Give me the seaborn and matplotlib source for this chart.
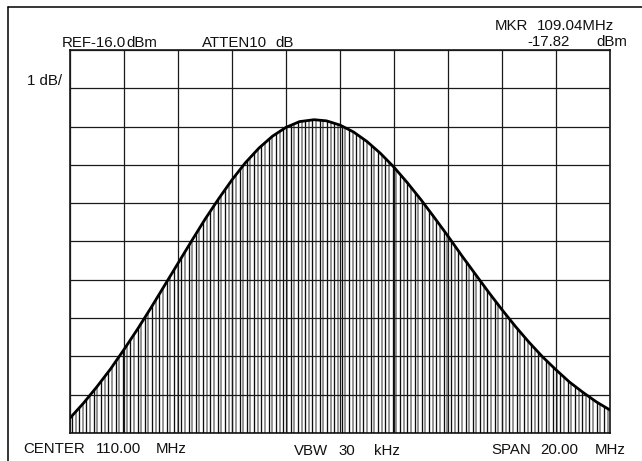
import numpy as np
import pandas as pd
import matplotlib
matplotlib.use("Agg")
import matplotlib.pyplot as plt
from matplotlib.patches import Polygon
from matplotlib.lines import Line2D
import seaborn as sns

# Envelope of the displayed spectrum (MHz, dBm)
env_freq = [100.0, 100.5, 101.0, 101.5, 102.0, 102.5, 103.0, 103.5, 104.0, 104.5,
            105.0, 105.5, 106.0, 106.5, 107.0, 107.5, 108.0, 108.5, 109.04,
            109.5, 110.0, 110.5, 111.0, 111.5, 112.0, 112.5, 113.0, 113.5, 114.0,
            114.5, 115.0, 115.5, 116.0, 116.5, 117.0, 117.5, 118.0, 118.5, 119.0,
            119.5, 120.0]
env_dbm = [-25.61, -25.22, -24.79, -24.33, -23.82, -23.29, -22.73, -22.15, -21.57, -20.99,
           -20.42, -19.89, -19.39, -18.94, -18.56, -18.25, -18.02, -17.87, -17.82,
           -17.85, -17.96, -18.14, -18.39, -18.70, -19.06, -19.47, -19.91, -20.38, -20.86,
           -21.36, -21.84, -22.32, -22.78, -23.22, -23.63, -24.01, -24.35, -24.67, -24.94,
           -25.19, -25.40]

# Comb of spectral lines under the envelope
comb_start_mhz = 100.07
comb_spacing_mhz = 0.135
line_freqs = np.arange(comb_start_mhz, 120.0, comb_spacing_mhz)

# Display settings
ref_level = -16.0
db_per_div = 1.0
center_mhz = 110.0
span_mhz = 20.0

W, H = 642, 461
sns.set_style("white")
plt.rcParams["font.family"] = ["Liberation Sans", "DejaVu Sans"]

fig = plt.figure(figsize=(W / 100, H / 100), dpi=100)
fig.patch.set_facecolor("white")


def fx(x):
    return x / W


def fy(y):
    return 1 - y / H


ax = fig.add_axes([fx(70), fy(433), 540 / W, 383 / H])
f_lo, f_hi = center_mhz - span_mhz / 2, center_mhz + span_mhz / 2
y_lo, y_hi = ref_level - 10 * db_per_div, ref_level
ax.set_xlim(f_lo, f_hi)
ax.set_ylim(y_lo, y_hi)

# spectral lines, clipped to the region under the envelope
under = Polygon(np.column_stack([[f_lo] + env_freq + [f_hi],
                                 [y_lo] + env_dbm + [y_lo]]),
                closed=True, facecolor="none", edgecolor="none",
                transform=ax.transData)
ax.add_patch(under)
dark = line_freqs[0::2]
light = line_freqs[1::2]
lc_light = ax.vlines(light, y_lo, y_hi, colors="#8c8c8c", linewidth=1.3, zorder=2)
lc_dark = ax.vlines(dark, y_lo, y_hi, colors="#0d0d0d", linewidth=0.95, zorder=2)
lc_light.set_clip_path(under)
lc_dark.set_clip_path(under)

# graticule
ax.set_xticks(np.linspace(f_lo, f_hi, 11))
ax.set_yticks(np.linspace(y_lo, y_hi, 11))
ax.grid(True, color="#1a1a1a", linewidth=0.9)
ax.set_axisbelow(False)
ax.tick_params(length=0, labelbottom=False, labelleft=False)
for s in ax.spines.values():
    s.set_color("black")
    s.set_linewidth(1.1)

env_df = pd.DataFrame({"freq": env_freq, "dbm": env_dbm})
sns.lineplot(data=env_df, x="freq", y="dbm", ax=ax, color="black",
             linewidth=2.0, zorder=5, sort=False)
ax.set_xlabel("")
ax.set_ylabel("")

# outer frame
fig.add_artist(Line2D([fx(7.5), 1.0], [fy(7.5), fy(7.5)], color="black", lw=1.1))
fig.add_artist(Line2D([fx(7.5), fx(7.5)], [fy(7.5), 0.0], color="black", lw=1.1))

FS = 10.8
CAP = 5.3


def label(x, yc, s, ha="left"):
    fig.text(fx(x), fy(yc + CAP), s, ha=ha, va="baseline", fontsize=FS, color="#111111")


# header annotations
label(62, 42, "REF-16.0")
label(126.5, 42, "dBm")
label(202, 42, "ATTEN10")
label(275, 42, "dB")
label(495, 25, "MKR")
label(614, 25, "109.04MHz", ha="right")
label(527, 41, "-17.82")
label(627, 41, "dBm", ha="right")
label(27, 80, "1 dB/")

# footer annotations
label(23, 448, "CENTER")
label(96, 448, "110.00")
label(187, 448, "MHz", ha="right")
label(294, 450, "VBW")
label(338, 450, "30")
label(400, 450, "kHz", ha="right")
label(491, 449, "SPAN")
label(540, 449, "20.00")
label(626, 449, "MHz", ha="right")

fig.savefig("out.png", dpi=100, facecolor="white")
